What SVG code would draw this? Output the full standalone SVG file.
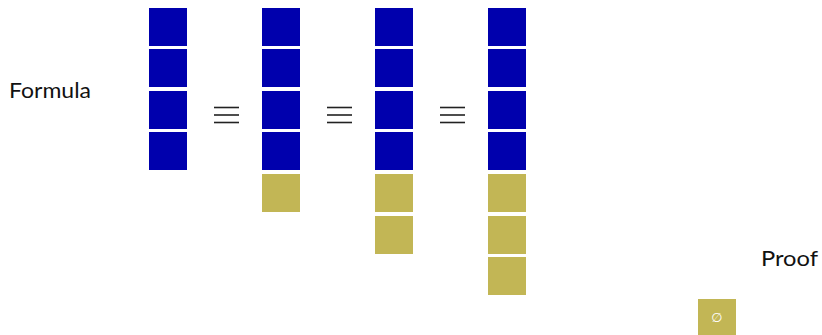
<svg xmlns="http://www.w3.org/2000/svg" width="822" height="335" viewBox="0 0 822 335">
<style>
.b{fill:#0000AD}
.y{fill:#C2B655}
.t{font-family:Lato,"Liberation Sans",sans-serif;font-size:21px;fill:#111}
.eq{stroke:#222;stroke-width:1.6}
</style>
<rect width="822" height="335" fill="#fff"/>
<g id="label-formula"><text class="t" x="9" y="98" textLength="82" lengthAdjust="spacingAndGlyphs">Formula</text></g>
<g id="label-proof"><text class="t" x="761" y="266" textLength="57" lengthAdjust="spacingAndGlyphs">Proof</text></g>
<g id="col1">
<rect class="b" x="149" y="8" width="38" height="38"/>
<rect class="b" x="149" y="49" width="38" height="38"/>
<rect class="b" x="149" y="91" width="38" height="38"/>
<rect class="b" x="149" y="132" width="38" height="38"/>
</g>
<g id="col2">
<rect class="b" x="262" y="8" width="38" height="38"/>
<rect class="b" x="262" y="49" width="38" height="38"/>
<rect class="b" x="262" y="91" width="38" height="38"/>
<rect class="b" x="262" y="132" width="38" height="38"/>
<rect class="y" x="262" y="174" width="38" height="38"/>
</g>
<g id="col3">
<rect class="b" x="375" y="8" width="38" height="38"/>
<rect class="b" x="375" y="49" width="38" height="38"/>
<rect class="b" x="375" y="91" width="38" height="38"/>
<rect class="b" x="375" y="132" width="38" height="38"/>
<rect class="y" x="375" y="174" width="38" height="38"/>
<rect class="y" x="375" y="216" width="38" height="38"/>
</g>
<g id="col4">
<rect class="b" x="488" y="8" width="38" height="38"/>
<rect class="b" x="488" y="49" width="38" height="38"/>
<rect class="b" x="488" y="91" width="38" height="38"/>
<rect class="b" x="488" y="132" width="38" height="38"/>
<rect class="y" x="488" y="174" width="38" height="38"/>
<rect class="y" x="488" y="216" width="38" height="38"/>
<rect class="y" x="488" y="257" width="38" height="38"/>
</g>
<g id="empty">
<rect class="y" x="698" y="299" width="38" height="38"/>
<text x="717" y="322" text-anchor="middle" font-family="'DejaVu Sans',sans-serif" font-size="13" fill="#fff">∅</text>
</g>
<g id="connectors">
<g id="eq1"><line class="eq" x1="214" y1="107.5" x2="239" y2="107.5"/><line class="eq" x1="214" y1="115" x2="239" y2="115"/><line class="eq" x1="214" y1="122.5" x2="239" y2="122.5"/></g>
<g id="eq2"><line class="eq" x1="327" y1="107.5" x2="352" y2="107.5"/><line class="eq" x1="327" y1="115" x2="352" y2="115"/><line class="eq" x1="327" y1="122.5" x2="352" y2="122.5"/></g>
<g id="eq3"><line class="eq" x1="440" y1="107.5" x2="465" y2="107.5"/><line class="eq" x1="440" y1="115" x2="465" y2="115"/><line class="eq" x1="440" y1="122.5" x2="465" y2="122.5"/></g>
</g>
</svg>
